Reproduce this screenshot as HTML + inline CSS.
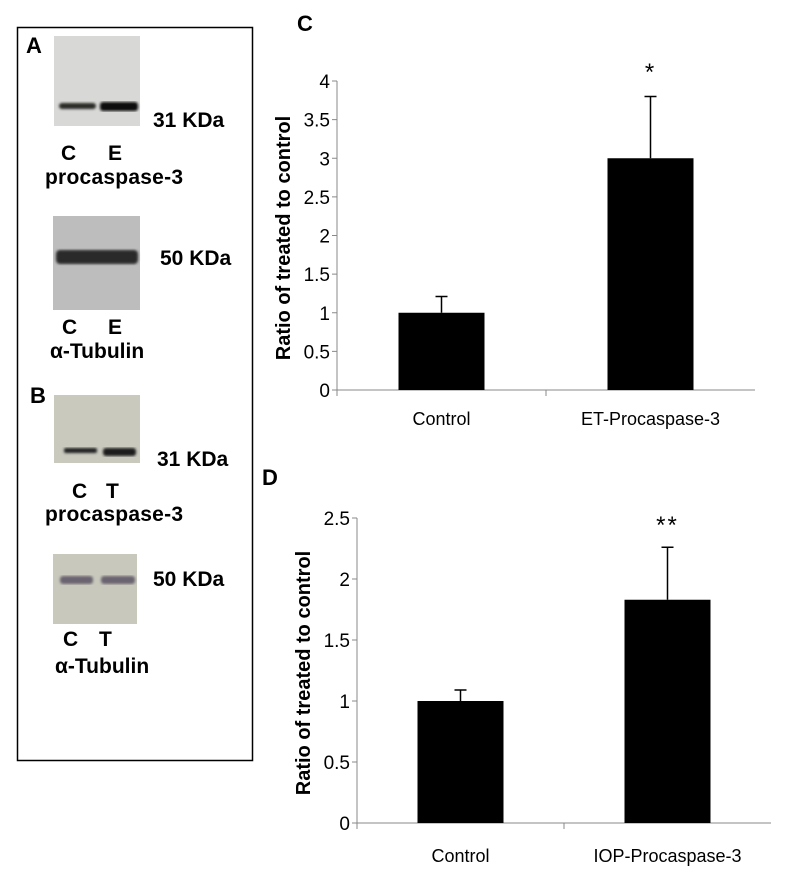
<!DOCTYPE html>
<html><head><meta charset="utf-8"><style>
html,body{margin:0;padding:0;background:#fff;}
svg{display:block;font-family:"Liberation Sans",Arial,sans-serif;}
</style></head><body>
<svg width="792" height="873" viewBox="0 0 792 873" xmlns="http://www.w3.org/2000/svg">
<defs>
<filter id="blur1"><feGaussianBlur stdDeviation="1.2"/></filter>
</defs>
<g>
<rect x="17.5" y="27.5" width="235" height="733" fill="none" stroke="#000" stroke-width="1.5"/>
<text x="26" y="53" font-size="22" font-weight="bold">A</text>
<g>
<rect x="54" y="36" width="86" height="90" fill="#d8d8d6"/>
<g filter="url(#blur1)"><rect x="59" y="103" width="37" height="6" rx="3" fill="#2a2a28"/><rect x="100" y="102" width="38" height="9" rx="3" fill="#111"/></g>
</g>
<text x="153" y="127" font-size="21" font-weight="bold">31 KDa</text>
<text x="61" y="160" font-size="21" font-weight="bold">C</text>
<text x="108" y="160" font-size="21" font-weight="bold">E</text>
<text x="45" y="184" font-size="21" font-weight="bold" textLength="138">procaspase-3</text>
<g>
<rect x="53" y="216" width="87" height="94" fill="#bdbdbd"/>
<g filter="url(#blur1)"><rect x="56" y="250" width="82" height="14" rx="4" fill="#2b2b2b"/></g>
</g>
<text x="160" y="265" font-size="21" font-weight="bold">50 KDa</text>
<text x="62" y="334" font-size="21" font-weight="bold">C</text>
<text x="108" y="334" font-size="21" font-weight="bold">E</text>
<text x="50" y="358" font-size="21" font-weight="bold">α-Tubulin</text>
<text x="30" y="403" font-size="22" font-weight="bold">B</text>
<g>
<rect x="54" y="395" width="86" height="68" fill="#c9c9be"/>
<g filter="url(#blur1)"><rect x="64" y="448" width="33" height="5" rx="2" fill="#222"/><rect x="103" y="448" width="33" height="8" rx="3" fill="#1a1a1a"/></g>
</g>
<text x="157" y="466" font-size="21" font-weight="bold">31 KDa</text>
<text x="72" y="498" font-size="21" font-weight="bold">C</text>
<text x="106" y="498" font-size="21" font-weight="bold">T</text>
<text x="45" y="521" font-size="21" font-weight="bold" textLength="138">procaspase-3</text>
<g>
<rect x="53" y="554" width="84" height="70" fill="#c8c8bc"/>
<g filter="url(#blur1)"><rect x="60" y="576" width="33" height="8" rx="3" fill="#6a6470"/><rect x="101" y="576" width="34" height="8" rx="3" fill="#6a6470"/></g>
</g>
<text x="153" y="586" font-size="21" font-weight="bold">50 KDa</text>
<text x="63" y="646" font-size="21" font-weight="bold">C</text>
<text x="99" y="646" font-size="21" font-weight="bold">T</text>
<text x="55" y="673" font-size="21" font-weight="bold">α-Tubulin</text>
</g>
<text x="297" y="31" font-size="22" font-weight="bold">C</text>
<text x="262" y="485" font-size="22" font-weight="bold">D</text>
<g id="chartC"></g>
<g id="chartD"></g>
</svg>
<script>
const cCategories = ["Control", "ET-Procaspase-3"];
const cValues = [1.0, 3.0];
const cErrors = [0.21, 0.8];
const cTicks = ["0","0.5","1","1.5","2","2.5","3","3.5","4"];
const cSig = ["", "*"];
const dCategories = ["Control", "IOP-Procaspase-3"];
const dValues = [1.0, 1.83];
const dErrors = [0.09, 0.43];
const dTicks = ["0","0.5","1","1.5","2","2.5"];
const dSig = ["", "**"];
const NS = "http://www.w3.org/2000/svg";
function mk(parent, tag, attrs){const e=document.createElementNS(NS,tag);for(const k in attrs)e.setAttribute(k,attrs[k]);parent.appendChild(e);return e;}
function drawChart(g, cfg, cats, vals, errs, ticks, sig, prefix){
  const maxV = parseFloat(ticks[ticks.length-1]);
  const y = v => cfg.y0 - (v/maxV)*(cfg.y0-cfg.yTop);
  const bandW = (cfg.xEnd-cfg.x0)/cats.length;
  const xc = i => cfg.x0 + bandW*(i+0.5);
  ticks.forEach(t=>{
    const v=parseFloat(t);
    const tl=mk(g,'line',{x1:cfg.x0-5,x2:cfg.x0,y1:y(v),y2:y(v),stroke:'#888','stroke-width':1});
    
    
    const tx=mk(g,'text',{x:cfg.x0-7,y:y(v)+7,'font-size':cfg.tickFs,'text-anchor':'end',fill:'#000'});
    tx.textContent=t;
    
    
  });
  const ya=mk(g,'line',{x1:cfg.x0,x2:cfg.x0,y1:cfg.yTop,y2:cfg.y0+6,stroke:'#888','stroke-width':1});
  
  
  const xa=mk(g,'line',{x1:cfg.x0,x2:cfg.xEnd,y1:cfg.y0,y2:cfg.y0,stroke:'#888','stroke-width':1});
  
  
  for(let i=1;i<cats.length;i++){
    const d=mk(g,'line',{x1:cfg.x0+bandW*i,x2:cfg.x0+bandW*i,y1:cfg.y0,y2:cfg.y0+6,stroke:'#888','stroke-width':1});
    
    
  }
  cats.forEach((c,i)=>{
    const bw=86;
    const b=mk(g,'rect',{x:xc(i)-bw/2,y:y(vals[i]),width:bw,height:cfg.y0-y(vals[i]),fill:'#000'});
    
    
    const et=y(vals[i]+errs[i]);
    const e=mk(g,'path',{d:`M${xc(i)},${y(vals[i])}V${et}M${xc(i)-6},${et}H${xc(i)+6}`,stroke:'#000','stroke-width':1.5,fill:'none'});
    
    
    const l=mk(g,'text',{x:xc(i),y:cfg.y0+cfg.labelDy,'font-size':18,'text-anchor':'middle'});
    l.textContent=c;
    
    
    if(sig[i]){
      const s=mk(g,'text',{x:xc(i),y:cfg.sigY,'font-size':24,'text-anchor':'middle','letter-spacing':2});
      s.textContent=sig[i];
      
      
    }
  });
  const t=mk(g,'text',{x:0,y:0,'font-size':20,'font-weight':'bold','text-anchor':'middle',transform:`translate(${cfg.titleX},${cfg.titleY}) rotate(-90)`});
  t.textContent='Ratio of treated to control';
  
  
}
drawChart(document.getElementById('chartC'),{x0:337,xEnd:755,y0:390,yTop:81,labelDy:35,sigY:80,titleX:290,titleY:238,tickFs:19},cCategories,cValues,cErrors,cTicks,cSig,'chart-c');
drawChart(document.getElementById('chartD'),{x0:357,xEnd:771,y0:823,yTop:518,labelDy:39,sigY:533,titleX:310,titleY:673,tickFs:19},dCategories,dValues,dErrors,dTicks,dSig,'chart-d');
</script>
</body></html>
